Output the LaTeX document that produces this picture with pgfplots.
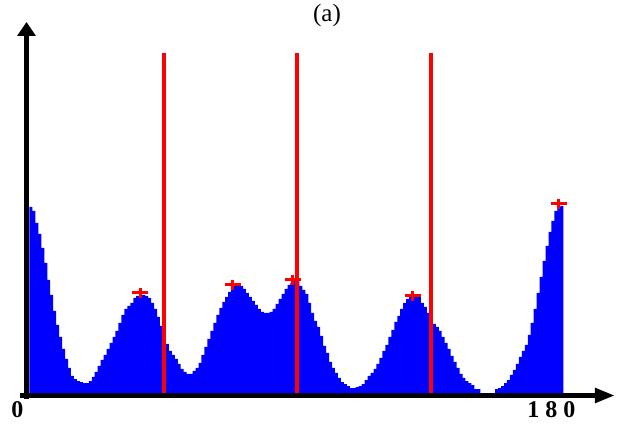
\documentclass[border=0pt]{standalone}
\usepackage{fontspec}
\setmainfont{Liberation Serif}
\usepackage{pgfplots}
\pgfplotsset{compat=1.18}
\usetikzlibrary{arrows.meta}

\definecolor{histblue}{RGB}{0,0,255}
\definecolor{peakred}{RGB}{255,0,0}

\begin{document}
\begin{tikzpicture}
% frame of the whole picture (620 x 427 px, 1px = 1bp)
\path (-26.5bp,-31.5bp) rectangle (593.5bp,395.5bp);
\begin{axis}[
  x=2.966bp, y=1bp,
  xmin=-1, xmax=197.4,
  ymin=-2.5, ymax=371,
  axis lines=left,
  axis line style={line width=5.5bp, black},
  x axis line style={-{Triangle[length=20bp,width=14bp]}, shorten <=-6bp},
  y axis line style={-{Triangle[length=14bp,width=18bp]}, shorten <=-3bp},
  xtick={0,180},
  xticklabels={\textbf{0},\textbf{1 8 0}},
  ytick=\empty,
  major tick length=0pt,
  xticklabel style={anchor=center, yshift=-14.5bp, xshift=-12bp,
    font=\fontsize{24bp}{26bp}\selectfont},
]
% orientation histogram, one bin per degree
\addplot[const plot mark left, fill=histblue, draw=none] table {
x h
0 186
1 182
2 170
3 159
4 145
5 130
6 113
7 98
8 82
9 68
10 56
11 44
12 34
13 25
14 17
15 14
16 12
17 11
18 10
19 10
20 12
21 16
22 21
23 27
24 33
25 38
26 44
27 50
28 56
29 62
30 70
31 78
32 84
33 87
34 90
35 95
36 97
37 98
38 98
39 97
40 95
41 90
42 84
43 76
44 67
45 62
46 49
47 42
48 38
49 34
50 29
51 24
52 21
53 19
54 19
55 22
56 25
57 30
58 38
59 46
60 54
61 62
62 70
63 78
64 85
65 91
66 96
67 101
68 105
69 107
70 107
71 107
72 104
73 100
74 96
75 92
76 88
77 84
78 81
79 80
80 80
81 81
82 84
83 89
84 94
85 99
86 104
87 108
88 110
89 112
90 112
91 107
92 103
93 99
94 90
95 80
96 72
97 66
98 57
99 47
100 40
101 31
102 25
103 20
104 15
105 11
106 9
107 7
108 5
109 5
110 6
111 7
112 9
113 13
114 17
115 20
116 24
117 29
118 35
119 42
120 48
121 56
122 63
123 71
124 77
125 84
126 90
127 94
128 96
129 97
130 97
131 96
132 90
133 86
134 80
135 74
136 69
137 66
138 62
139 56
140 50
141 44
142 37
143 31
144 25
145 19
146 15
147 12
148 10
149 8
150 4
151 4
152 0
153 0
154 0
155 0
156 0
157 4
158 5
159 7
160 10
161 13
162 18
163 23
164 29
165 36
166 42
167 48
168 58
169 70
170 84
171 100
172 116
173 132
174 147
175 161
176 172
177 182
178 186
179 187
180 187
} \closedcycle;

% dividing lines
\addplot[peakred, line width=4bp] coordinates {(45.3,0) (45.3,340)};
\addplot[peakred, line width=4bp] coordinates {(90.3,0) (90.3,340)};
\addplot[peakred, line width=4bp] coordinates {(135.4,0) (135.4,340)};

% detected peaks
\addplot[only marks, peakred, mark=+, mark size=8bp,
  mark options={line width=3bp, yscale=0.65}] coordinates {
  (37.3,100) (68.6,108) (88.8,113) (129.3,97) (178.5,189)
};
\end{axis}
\node[font=\fontsize{25bp}{27bp}\selectfont] at (300.5bp,380bp) {(a)};
\end{tikzpicture}
\end{document}
